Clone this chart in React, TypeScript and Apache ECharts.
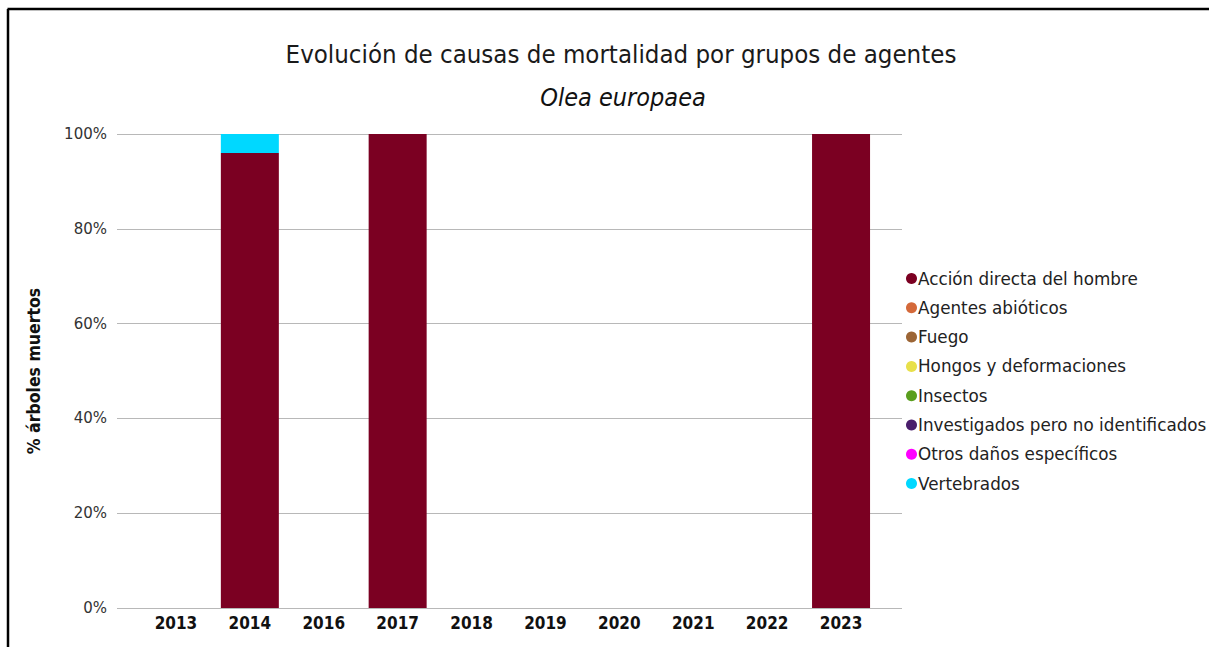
import React, { useEffect, useRef } from "react";
import * as echarts from "echarts";

const years = ["2013", "2014", "2016", "2017", "2018", "2019", "2020", "2021", "2022", "2023"];
const seriesNames = [
  "Acción directa del hombre",
  "Agentes abióticos",
  "Fuego",
  "Hongos y deformaciones",
  "Insectos",
  "Investigados pero no identificados",
  "Otros daños específicos",
  "Vertebrados",
];
const seriesColors = ["#7b0022", "#d4693a", "#9c6535", "#e8e04a", "#5a9e1e", "#4a1e6c", "#ff00ff", "#00d8ff"];
const accionDirecta = [0, 96, 0, 100, 0, 0, 0, 0, 0, 100];
const agentesAbioticos = [0, 0, 0, 0, 0, 0, 0, 0, 0, 0];
const fuego = [0, 0, 0, 0, 0, 0, 0, 0, 0, 0];
const hongos = [0, 0, 0, 0, 0, 0, 0, 0, 0, 0];
const insectos = [0, 0, 0, 0, 0, 0, 0, 0, 0, 0];
const investigados = [0, 0, 0, 0, 0, 0, 0, 0, 0, 0];
const otros = [0, 0, 0, 0, 0, 0, 0, 0, 0, 0];
const vertebrados = [0, 4, 0, 0, 0, 0, 0, 0, 0, 0];
const seriesValues = [accionDirecta, agentesAbioticos, fuego, hongos, insectos, investigados, otros, vertebrados];
const yTicks = [0, 20, 40, 60, 80, 100];

export default function App() {
  const ref = useRef<HTMLDivElement>(null);
  useEffect(() => {
    if (!ref.current) return;
    const chart = echarts.init(ref.current, null, { renderer: "svg" });
    const top = 134;
    const bottom = 647 - 608;
    chart.setOption({
      animation: false,
      backgroundColor: "#ffffff",
      title: [
        {
          text: "Evolución de causas de mortalidad por grupos de agentes",
          left: 616,
          top: 36,
          textAlign: "center",
          textStyle: { fontFamily: "DejaVu Sans Condensed", fontSize: 25.6, fontWeight: "normal", color: "#1a1a1a" },
        },
        {
          text: "Olea europaea",
          left: 618,
          top: 80,
          textAlign: "center",
          textStyle: { fontFamily: "DejaVu Sans Condensed", fontSize: 25, fontStyle: "italic", fontWeight: "normal", color: "#111" },
        },
      ],
      legend: {
        orient: "vertical",
        left: 901,
        top: 265,
        itemWidth: 11,
        itemHeight: 11,
        itemGap: 12.3,
        icon: "circle",
        itemStyle: { borderWidth: 0 },
        textStyle: { fontFamily: "DejaVu Sans", fontSize: 16.8, color: "#222", padding: [0, 0, 0, -4] },
        data: seriesNames,
      },
      grid: [
        { left: 139, right: 1209 - 878, top, bottom, containLabel: false },
        { left: 117, right: 1209 - 902, top, bottom, containLabel: false },
      ],
      xAxis: [
        {
          type: "category",
          gridIndex: 0,
          data: years,
          axisLine: { show: false },
          axisTick: { show: false },
          axisLabel: { fontFamily: "DejaVu Sans Condensed", fontSize: 17, fontWeight: "bold", color: "#111", margin: 6 },
        },
        {
          type: "category",
          gridIndex: 1,
          data: years,
          show: false,
        },
      ],
      yAxis: [
        {
          type: "value",
          gridIndex: 0,
          min: 0,
          max: 100,
          interval: 20,
          show: false,
        },
        {
          type: "value",
          gridIndex: 1,
          min: 0,
          max: 100,
          interval: 20,
          name: "% árboles muertos",
          nameLocation: "middle",
          nameGap: 74,
          nameTextStyle: { fontFamily: "DejaVu Sans Condensed", fontSize: 17.5, fontWeight: "bold", color: "#111" },
          axisLine: { show: false },
          axisTick: { show: false },
          axisLabel: {
            formatter: (v: number) => (yTicks.includes(v) ? v + "%" : ""),
            fontFamily: "DejaVu Sans",
            fontSize: 15,
            color: "#333",
            margin: 10,
          },
          splitLine: { lineStyle: { color: "#b8b8b8", width: 1 } },
        },
      ],
      series: seriesNames.map((name, i) => ({
        name,
        type: "bar",
        stack: "total",
        xAxisIndex: 0,
        yAxisIndex: 0,
        barWidth: 58,
        color: seriesColors[i],
        itemStyle: { color: seriesColors[i] },
        data: seriesValues[i],
      })),
      graphic: [
        { type: "line", shape: { x1: 7.5, y1: 9, x2: 1209, y2: 9 }, style: { stroke: "#000", lineWidth: 2.5 } },
        { type: "line", shape: { x1: 8, y1: 9, x2: 8, y2: 647 }, style: { stroke: "#000", lineWidth: 2.5 } },
      ],
    });
    return () => chart.dispose();
  }, []);
  return <div ref={ref} style={{ position: "fixed", left: 0, top: 0, width: 1209, height: 647 }} />;
}
